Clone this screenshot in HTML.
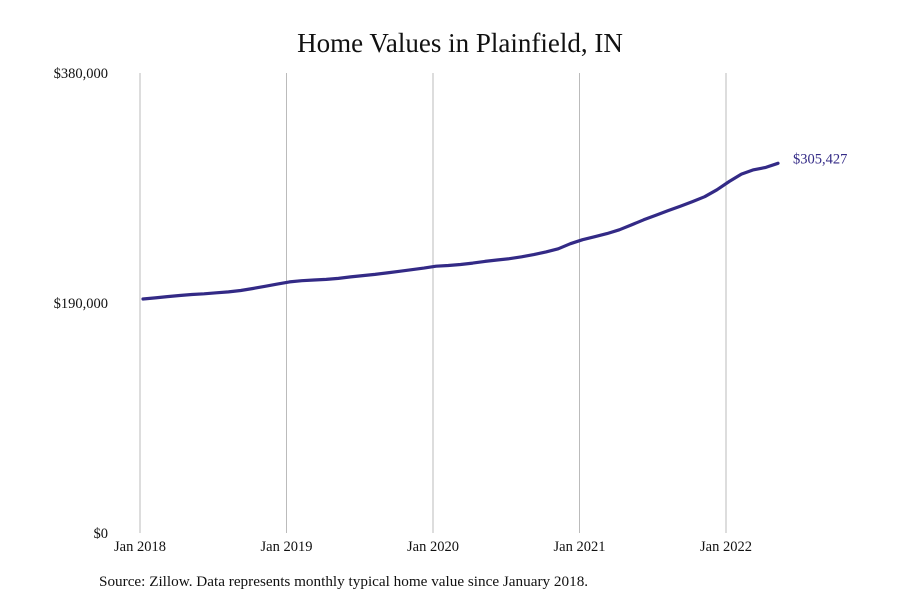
<!DOCTYPE html>
<html><head><meta charset="utf-8"><style>
body{margin:0;background:#fff;}
svg{display:block;font-family:"Liberation Serif",serif;}
</style></head><body>
<svg id="chart" width="900" height="600">
<text x="460" y="52" text-anchor="middle" font-size="27" fill="#111">Home Values in Plainfield, IN</text>
<g id="grid"></g><g id="yaxis"></g><g id="xaxis"></g><g id="series"></g>
<text x="99" y="586" font-size="15.2" fill="#111">Source: Zillow. Data represents monthly typical home value since January 2018.</text>
</svg>
<script>
const yearLabels=["Jan 2018","Jan 2019","Jan 2020","Jan 2021","Jan 2022"];
const yTicks=[0,190000,380000];
const yTickLabels=["$0","$190,000","$380,000"];
const values2018=[193.3,194.2,195.3,196.2,197.0,197.6,198.4,199.2,200.3,202.0,203.8,205.6];
const values2019=[207.4,208.4,209.0,209.5,210.3,211.6,212.6,213.6,214.9,216.2,217.5,218.8];
const values2020=[220.4,221.0,221.8,223.0,224.4,225.5,226.6,228.2,230.0,232.2,234.8,239.0];
const values2021=[242.3,244.8,247.3,250.5,254.5,258.7,262.5,266.3,270.0,273.8,277.8,283.5];
const values2022=[290.4,296.5,300.0,302.0,305.427];
const endLabel="$305,427";
const values=[...values2018,...values2019,...values2020,...values2021,...values2022].map(v=>v*1000);
const NS="http://www.w3.org/2000/svg";
const gx0=140,step=586/48,off=3;
const x=i=>gx0+off+i*((778-gx0-off)/52);
const gxf=j=>gx0+j*146.5;
const y=v=>533-v/380000*460;
function mk(t,a,p){const e=document.createElementNS(NS,t);for(const k in a)e.setAttribute(k,a[k]);p.appendChild(e);return e;}
const grid=document.getElementById('grid'),xa=document.getElementById('xaxis'),ya=document.getElementById('yaxis'),se=document.getElementById('series');
yearLabels.forEach((l,j)=>{
 const gx=gxf(j);
 const gl=mk('line',{x1:gx,x2:gx,y1:73,y2:533,stroke:'#bbb','stroke-width':1},grid);
 
 
 const t=mk('text',{x:gx,y:551,'text-anchor':'middle','font-size':14.5,fill:'#111'},xa);
 t.textContent=l;
 
 
});
yTicks.forEach((v,j)=>{
 const t=mk('text',{x:108,y:y(v)+5,'text-anchor':'end','font-size':14.5,fill:'#111'},ya);
 t.textContent=yTickLabels[j];
 
 
});
const p=mk('path',{d:values.map((v,i)=>(i?'L':'M')+x(i).toFixed(1)+' '+y(v).toFixed(1)).join(' '),fill:'none',stroke:'#332a86','stroke-width':3.2,'stroke-linejoin':'round','stroke-linecap':'round'},se);


const li=values.length-1;
const el=mk('text',{x:x(li)+15,y:y(values[li])+0,'font-size':14.5,fill:'#332a86'},se);
el.textContent=endLabel;


</script>
</body></html>
